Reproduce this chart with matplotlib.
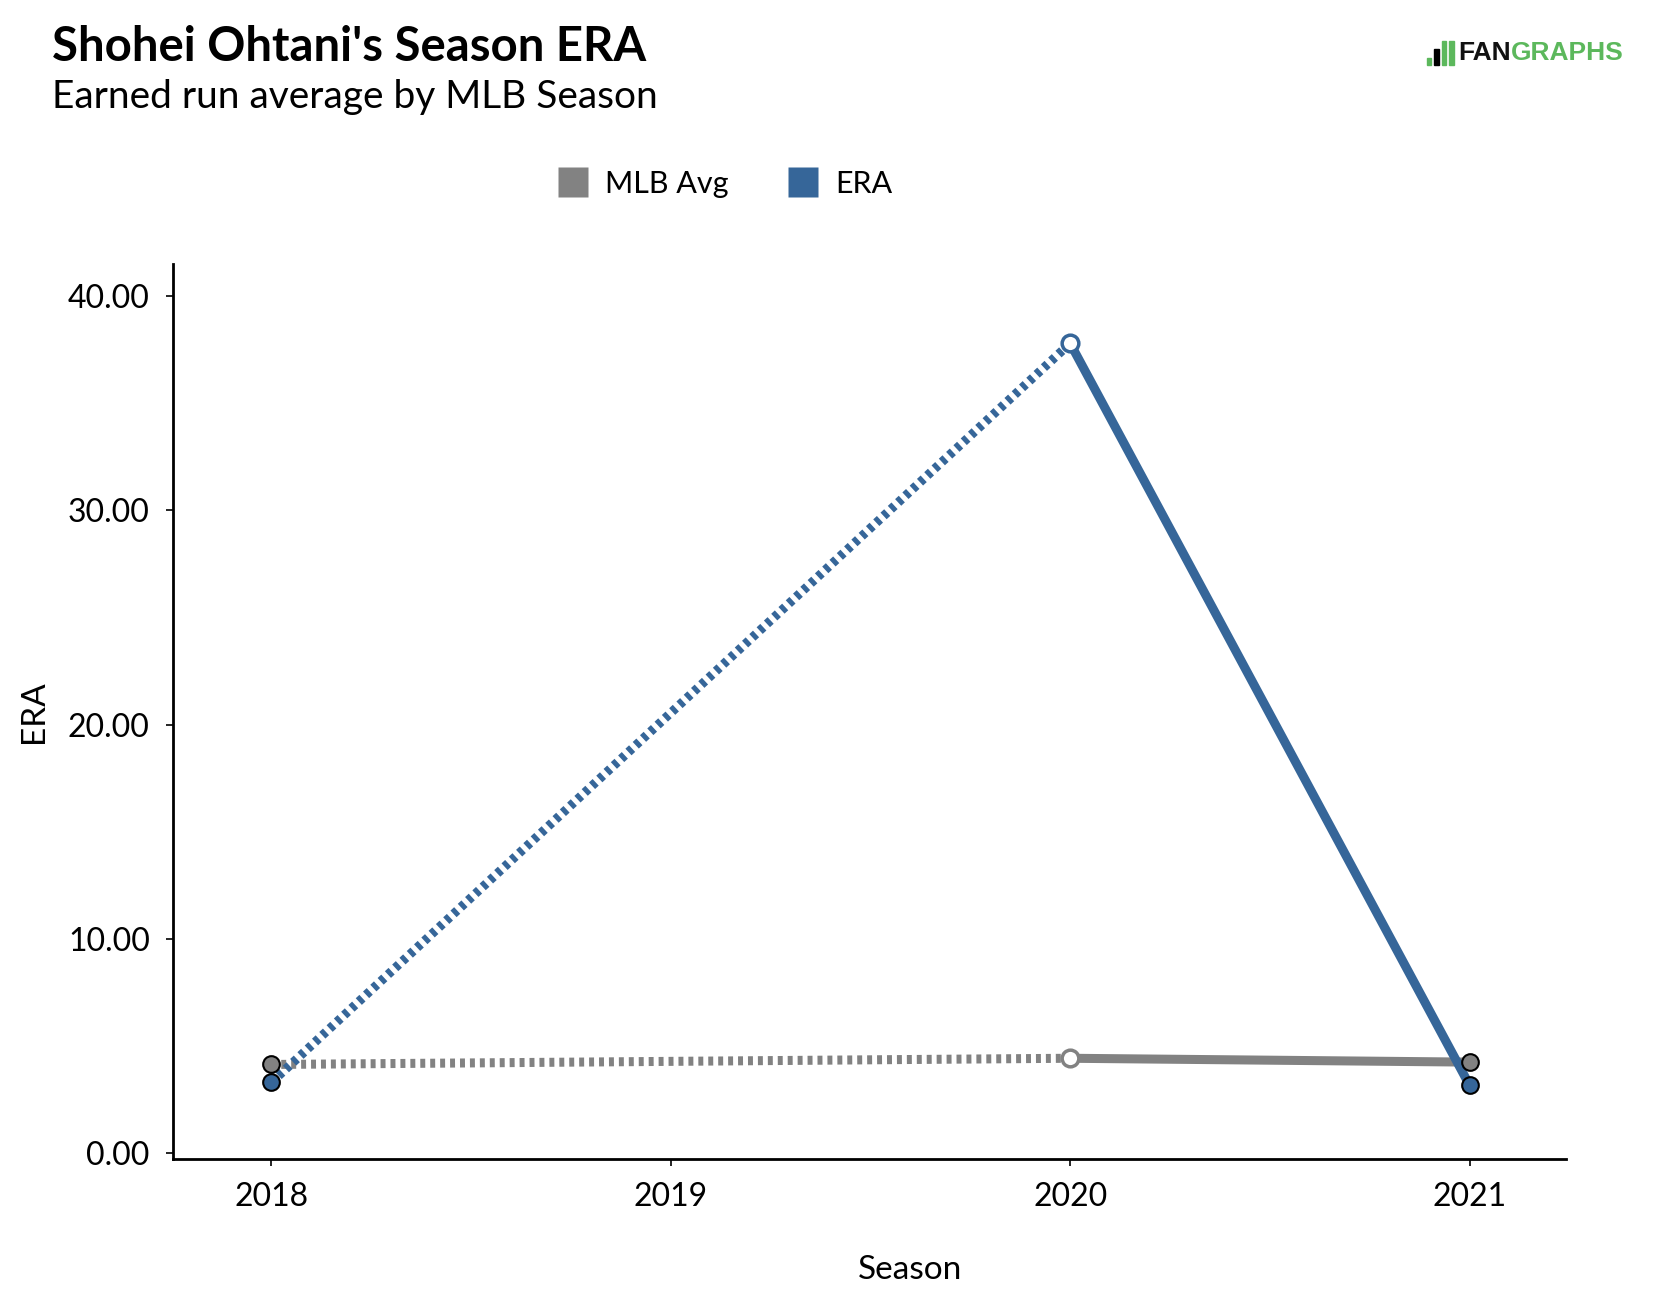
import matplotlib.pyplot as plt
from matplotlib.patches import Rectangle
from matplotlib.lines import Line2D
from matplotlib.transforms import offset_copy

plt.rcParams["font.family"] = ["Lato", "DejaVu Sans"]

seasons = [2018, 2020, 2021]
era = [3.31, 37.80, 3.18]
mlb_avg = [4.15, 4.44, 4.26]
yticks = [0, 10, 20, 30, 40]
xticks = [2018, 2019, 2020, 2021]

BLUE = "#366699"
GRAY = "#828282"
GREEN = "#5cb85c"

fig = plt.figure(figsize=(16.68, 12.94), dpi=100)
ax = fig.add_axes([0.104, 0.1045, 0.835, 0.6915])

dot = (0, (0.55, 0.55))
for vals, col in [(mlb_avg, GRAY), (era, BLUE)]:
    # 2019 missing -> dotted bridge, then solid
    ax.plot(seasons[:2], vals[:2], color=col, lw=6.5, ls=dot, dash_capstyle="butt", zorder=2)
    ax.plot(seasons[1:], vals[1:], color=col, lw=6.5, solid_capstyle="butt", zorder=2)
    ax.plot([seasons[0], seasons[2]], [vals[0], vals[2]], ls="none", marker="o", ms=12,
            mfc=col, mec="black", mew=1.5, zorder=4)
    ax.plot([seasons[1]], [vals[1]], ls="none", marker="o", ms=12,
            mfc="white", mec=col, mew=2.5, zorder=4)

ax.set_xlim(2017.755, 2021.242)
ax.set_ylim(-0.25, 41.5)
ax.set_xticks(xticks)
ax.set_xticklabels([str(x) for x in xticks])
ax.set_yticks(yticks)
ax.set_yticklabels([f"{v:.2f}" for v in yticks])
ax.tick_params(labelsize=23, length=5, width=1.2, pad=12, color="black")
for s in ["top", "right"]:
    ax.spines[s].set_visible(False)
for s in ["left", "bottom"]:
    ax.spines[s].set_linewidth(2)
ax.set_xlabel("Season", fontsize=24)
ax.set_ylabel("ERA", fontsize=24, labelpad=14)
ax.xaxis.set_label_coords(0.529, -0.108)

fig.text(0.031, 0.964, "Shohei Ohtani's Season ERA", fontsize=34, fontweight="bold", va="center")
fig.text(0.031, 0.925, "Earned run average by MLB Season", fontsize=28, va="center")

handles = [Line2D([], [], ls="none", marker="s", ms=21, mfc=GRAY, mec="none"),
           Line2D([], [], ls="none", marker="s", ms=21, mfc=BLUE, mec="none")]
fig.legend(handles, ["MLB Avg", "ERA"], loc="center", bbox_to_anchor=(0.4347, 0.858),
           ncol=2, frameon=False, fontsize=22, handlelength=1.0, handletextpad=0.56,
           columnspacing=1.95)

# logo
for i, h in enumerate([0.005, 0.012, 0.018, 0.018]):
    x0 = 0.8555 + i * 0.0045
    fig.patches.append(Rectangle((x0, 0.950), 0.0026, h, transform=fig.transFigure,
                                 color=GREEN if i != 1 else "black"))
t1 = fig.text(0.8745, 0.959, "FAN", fontsize=19, fontweight="bold", color="#111111",
              va="center", family="Liberation Sans")
fig.canvas.draw()
w = t1.get_window_extent().width
fig.text(0.8745, 0.959, "GRAPHS", fontsize=19, fontweight="bold", color=GREEN, va="center",
         family="Liberation Sans",
         transform=offset_copy(fig.transFigure, fig=fig, x=w * 72 / fig.dpi, units="points"))

fig.savefig("out.png", dpi=100, facecolor="white")
